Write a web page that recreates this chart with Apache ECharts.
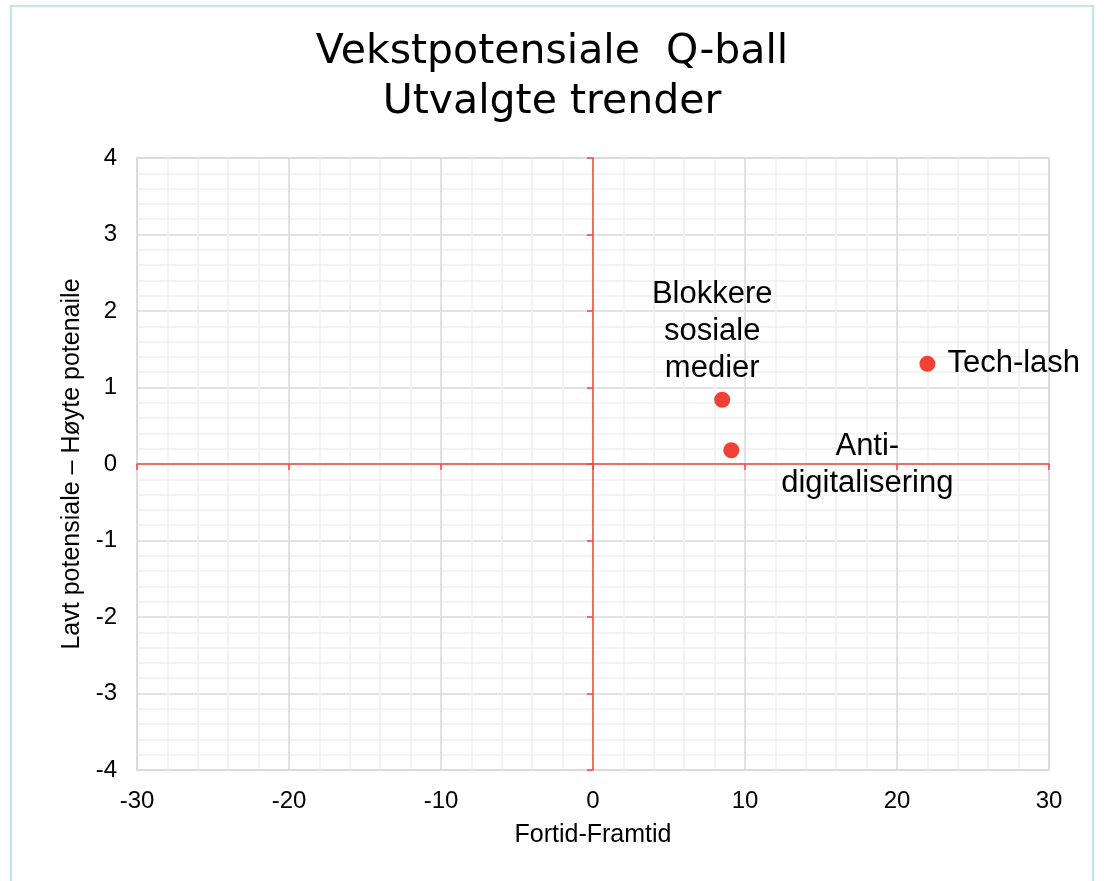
<!DOCTYPE html>
<html>
<head>
<meta charset="utf-8">
<title>Vekstpotensiale Q-ball</title>
<script src="https://cdn.jsdelivr.net/npm/echarts@6/dist/echarts.min.js"></script>
<style>
  html, body { margin: 0; padding: 0; background: #fff; }
  #chart { width: 1104px; height: 881px; }
</style>
</head>
<body>
<div id="chart"></div>
<script>
// trends (x = fortid/framtid, y = vekstpotensiale)
const trendNames = ['Blokkere sosiale medier', 'Anti-digitalisering', 'Tech-lash']
const trendLabels = ['Blokkere\nsosiale\nmedier', 'Anti-\ndigitalisering', 'Tech-lash']
const xValues = [8.5, 9.1, 22.0]
const yValues = [0.84, 0.18, 1.31]

const xTicks = { min: -30, max: 30, interval: 10 }
const yTicks = { min: -4, max: 4, interval: 1 }

const axisRed = '#f0483e'
const gridGray = '#d9d9d9'
const minorGray = '#efefef'
const textFont = '"Liberation Sans", Arial, sans-serif'

// label placement per trend
const labelPlacement = {
  'Blokkere sosiale medier': { position: 'inside', offset: [-10, -68], align: 'center' },
  'Anti-digitalisering': { position: 'inside', offset: [136, 15], align: 'center' },
  'Tech-lash': { position: 'right', distance: 12, align: 'left' }
}

const chart = echarts.init(document.getElementById('chart'))

const seriesData = trendNames.map((name, i) => {
  const place = labelPlacement[name]
  return {
    name: name,
    value: [xValues[i], yValues[i]],
    label: {
      show: true,
      position: place.position,
      offset: place.offset || [0, 0],
      distance: place.distance || 5,
      align: place.align,
      verticalAlign: 'middle',
      color: '#000',
      formatter: trendLabels[i]
    }
  }
})

const mainAxis = (ticks, isX) => ({
  type: 'value',
  min: ticks.min,
  max: ticks.max,
  interval: ticks.interval,
  position: isX ? 'bottom' : 'left',
  axisLine: { show: false, onZero: false },
  axisTick: { show: false },
  axisLabel: {
    color: '#000',
    fontSize: 24,
    fontFamily: textFont,
    margin: isX ? 19 : 20
  },
  splitLine: { show: true, lineStyle: { color: gridGray, width: 1.5 } },
  minorTick: { show: false, splitNumber: 5 },
  minorSplitLine: { show: true, lineStyle: { color: minorGray, width: 1.5 } }
})

const zeroAxis = (ticks, isX) => ({
  type: 'value',
  min: ticks.min,
  max: ticks.max,
  interval: ticks.interval,
  position: isX ? 'bottom' : 'left',
  axisLine: { show: true, onZero: true, onZeroAxisIndex: 0, lineStyle: { color: axisRed, width: 1.5 } },
  axisTick: { show: true, length: 6, lineStyle: { color: axisRed, width: 1.5 } },
  axisLabel: { show: false },
  splitLine: { show: false }
})

const xMain = mainAxis(xTicks, true)
xMain.name = 'Fortid-Framtid'
xMain.nameLocation = 'middle'
xMain.nameGap = 53
xMain.nameTextStyle = { color: '#000', fontSize: 25, fontFamily: textFont }

const yMain = mainAxis(yTicks, false)
yMain.name = 'Lavt potensiale \u2013 Høyte potenaile'
yMain.nameLocation = 'middle'
yMain.nameGap = 49
yMain.nameTextStyle = { color: '#000', fontSize: 25, fontFamily: textFont }

chart.setOption({
  backgroundColor: '#fff',
  animation: false,
  title: {
    text: 'Vekstpotensiale  Q-ball\nUtvalgte trender',
    left: 'center',
    top: 27,
    padding: 0,
    textStyle: {
      color: '#000',
      fontSize: 41,
      fontWeight: 'normal',
      fontFamily: '"DejaVu Sans", sans-serif',
      lineHeight: 50
    }
  },
  graphic: [{
    type: 'rect',
    shape: { x: 11, y: 6, width: 1082, height: 900 },
    style: { fill: 'none', stroke: '#bfe3f8', lineWidth: 2 },
    silent: true
  }],
  grid: {
    left: 137,
    right: 55,
    top: 158,
    bottom: 111,
    show: true,
    borderColor: gridGray,
    borderWidth: 1.5
  },
  xAxis: [xMain, zeroAxis(xTicks, true)],
  yAxis: [yMain, zeroAxis(yTicks, false)],
  series: [{
    type: 'scatter',
    xAxisIndex: 0,
    yAxisIndex: 0,
    symbol: 'circle',
    symbolSize: 16,
    itemStyle: { color: '#ef4136', opacity: 1 },
    label: {
      show: true,
      color: '#000',
      fontSize: 31,
      lineHeight: 37,
      fontFamily: textFont
    },
    data: seriesData
  }]
})
</script>
</body>
</html>
